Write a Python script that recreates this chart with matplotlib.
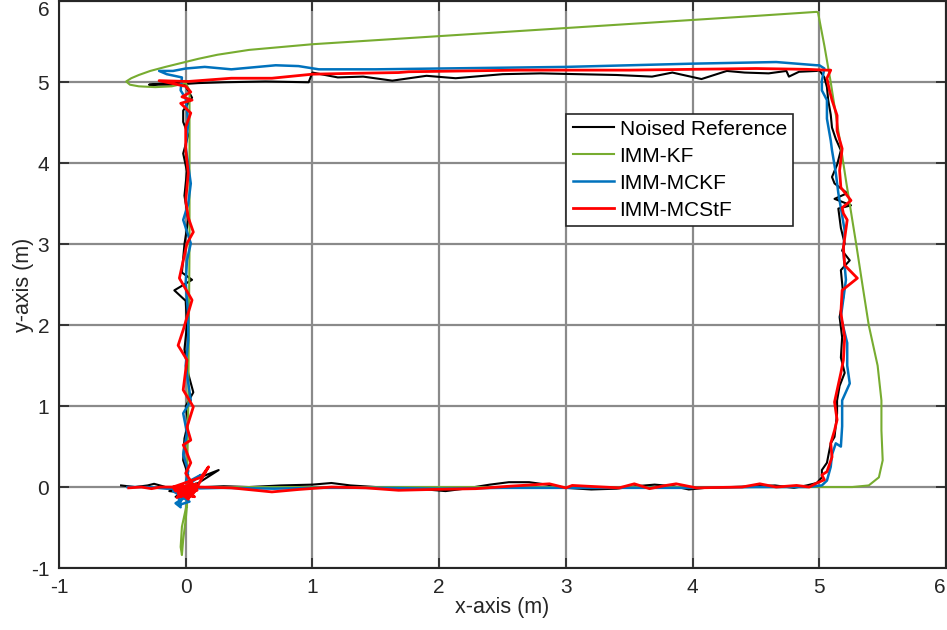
import matplotlib
matplotlib.use("Agg")
import matplotlib.pyplot as plt

plt.rcParams['font.family'] = ['Liberation Sans', 'DejaVu Sans']
plt.rcParams['axes.unicode_minus'] = False

# Noised reference
ref_x = [-0.51, -0.40, -0.30, -0.25, -0.18, -0.12, -0.05, 0.05, 0.15, 0.30, 0.50, 0.75, 1.00, 1.15, 1.30,
         1.50, 1.70, 1.90, 2.05, 2.20, 2.40, 2.55, 2.71, 2.85, 3.00, 3.20, 3.40, 3.55, 3.70, 3.85, 3.97,
         4.10, 4.30, 4.50, 4.65, 4.80, 4.90, 4.98,
         5.02, 5.02, 5.06, 5.09, 5.12, 5.14, 5.14, 5.16, 5.20, 5.17, 5.18, 5.16, 5.19, 5.17, 5.24, 5.18,
         5.20, 5.17, 5.15, 5.25, 5.12, 5.22, 5.12, 5.10, 5.14, 5.17, 5.13, 5.10, 5.09, 5.07, 5.06, 5.04, 5.00,
         4.98, 4.84, 4.76, 4.74, 4.60, 4.41, 4.27, 4.07, 3.84, 3.68, 3.40, 3.10, 2.80, 2.50, 2.13, 1.90,
         1.63, 1.40, 1.20, 1.00, 0.97, 0.63, 0.30, 0.10, -0.10, -0.29,
         -0.05, 0.00, 0.05, -0.02, -0.02, 0.02, -0.02, 0.01, -0.01, 0.02, -0.01, -0.03, 0.05, -0.09, 0.00,
         0.01, -0.01, 0.02, 0.06, 0.00, 0.02, -0.01, -0.02, 0.02, 0.00,
         0.26, 0.10, -0.13, 0.05, -0.08, 0.08, -0.02]
ref_y = [0.02, 0.00, 0.02, 0.04, 0.01, -0.02, -0.03, -0.02, 0.00, 0.01, 0.00, 0.02, 0.03, 0.05, 0.02,
         0.00, -0.01, -0.03, -0.05, -0.02, 0.03, 0.06, 0.06, 0.03, -0.01, -0.03, -0.02, 0.01, 0.03, 0.01, -0.03,
         -0.01, 0.00, 0.01, 0.02, -0.01, 0.02, 0.05,
         0.12, 0.21, 0.30, 0.54, 0.62, 0.91, 1.07, 1.25, 1.41, 1.60, 1.85, 2.10, 2.35, 2.68, 2.80, 2.92,
         3.01, 3.20, 3.44, 3.48, 3.56, 3.63, 3.75, 3.83, 3.98, 4.16, 4.30, 4.44, 4.60, 4.78, 4.94, 5.06, 5.15,
         5.14, 5.13, 5.07, 5.14, 5.11, 5.12, 5.14, 5.04, 5.12, 5.07, 5.09, 5.10, 5.11, 5.10, 5.05, 5.08,
         5.02, 5.07, 5.06, 5.12, 5.00, 5.01, 5.00, 4.99, 4.97, 4.97,
         5.00, 4.95, 4.81, 4.65, 4.51, 4.35, 4.12, 3.90, 3.60, 3.30, 3.00, 2.65, 2.56, 2.43, 2.30,
         2.00, 1.70, 1.40, 1.17, 1.00, 0.80, 0.60, 0.33, 0.15, 0.05,
         0.21, 0.05, -0.05, -0.08, -0.12, 0.02, -0.03]

# IMM-KF
kf_x = [0.00, 1.00, 2.00, 3.00, 4.00, 5.00, 5.26, 5.39, 5.47, 5.50, 5.49, 5.49, 5.46, 5.39, 5.34, 5.29,
        5.26, 5.21, 5.17, 5.13, 5.09, 5.04, 4.99, 4.98,
        4.50, 4.00, 3.00, 2.00, 1.00, 0.50, 0.25, 0.10, -0.03, -0.16, -0.28, -0.37, -0.43, -0.47, -0.44,
        -0.37, -0.24, -0.11, 0.00,
        0.03, 0.03, 0.02, 0.01, 0.01, -0.03, -0.04, -0.03, -0.02, 0.00, 0.01]
kf_y = [0.00, 0.00, 0.00, 0.00, 0.00, 0.00, 0.00, 0.02, 0.12, 0.33, 0.70, 1.07, 1.50, 2.00, 2.50, 3.01,
        3.30, 3.79, 4.20, 4.60, 5.00, 5.45, 5.86, 5.87,
        5.82, 5.77, 5.67, 5.57, 5.47, 5.40, 5.34, 5.29, 5.24, 5.19, 5.14, 5.09, 5.05, 5.01, 4.97,
        4.95, 4.94, 4.95, 4.99,
        4.90, 3.00, 1.00, 0.00, -0.20, -0.49, -0.74, -0.84, -0.65, -0.40, -0.23]

# IMM-MCKF
mckf_x = [-0.46, -0.30, -0.15, 0.00, 0.30, 0.70, 1.00, 1.50, 2.00, 2.50, 3.00, 3.50, 4.00, 4.50, 4.90,
          5.02, 5.06, 5.09, 5.10, 5.13, 5.17, 5.18, 5.18, 5.24, 5.22, 5.22, 5.17, 5.21, 5.19, 5.20, 5.15,
          5.13, 5.10, 5.09, 5.06, 5.06, 5.02, 5.02, 5.04, 5.00,
          4.98, 4.66, 4.00, 3.50, 3.00, 2.50, 2.00, 1.50, 1.05, 0.89, 0.71, 0.50, 0.36, 0.15, 0.00, -0.10,
          -0.21, -0.15, -0.03,
          -0.04, 0.00, 0.02, 0.00, 0.04, 0.02, -0.02, 0.04, 0.01, 0.00, 0.02, 0.02, 0.00, 0.04, -0.02,
          0.01, -0.02, 0.02, 0.00,
          0.12, 0.04, -0.06, -0.04, -0.08, 0.02, -0.10, 0.03, -0.05, 0.00]
mckf_y = [0.00, 0.00, -0.02, -0.02, -0.01, -0.02, -0.01, -0.01, -0.02, -0.01, -0.01, -0.01, -0.01, 0.00, 0.00,
          0.02, 0.08, 0.25, 0.40, 0.54, 0.50, 0.75, 1.07, 1.28, 1.50, 1.78, 2.10, 2.56, 2.90, 3.17, 3.63,
          3.88, 4.16, 4.28, 4.55, 4.78, 4.90, 5.02, 5.17, 5.21,
          5.21, 5.25, 5.23, 5.21, 5.19, 5.18, 5.17, 5.16, 5.16, 5.20, 5.21, 5.18, 5.16, 5.19, 5.17, 5.14,
          5.14, 5.10, 5.06,
          4.90, 4.80, 4.50, 4.20, 3.75, 3.50, 3.30, 3.01, 2.80, 2.52, 2.10, 1.81, 1.50, 1.07, 0.91,
          0.67, 0.40, 0.20, 0.05,
          0.15, 0.05, -0.10, -0.25, -0.20, -0.10, -0.05, -0.18, -0.22, -0.02]

# IMM-MCStF
mcstf_x = [-0.45, -0.35, -0.27, -0.20, 0.10, 0.36, 0.68, 0.89, 1.15, 1.42, 1.68, 1.94, 2.29, 2.55, 2.87,
           3.00, 3.05, 3.42, 3.54, 3.66, 3.79, 3.87, 4.03, 4.39, 4.53, 4.66, 4.82, 4.92, 4.98,
           5.04, 5.02, 5.06, 5.10, 5.09, 5.12, 5.14, 5.12, 5.17, 5.19, 5.20, 5.17, 5.18, 5.30, 5.20, 5.19,
           5.22, 5.19, 5.18, 5.25, 5.17, 5.16, 5.18, 5.14, 5.14, 5.10, 5.08, 5.06, 5.09, 5.05,
           4.90, 4.50, 4.00, 3.50, 3.00, 2.63, 2.20, 1.76, 1.68, 1.30, 1.00, 0.68, 0.36, 0.02, -0.21,
           0.00, 0.04, -0.03, 0.05, -0.04, 0.04, 0.00, 0.00, 0.02, 0.00, 0.02, 0.06, 0.01, -0.05, 0.05,
           -0.02, -0.06, 0.01, -0.02, 0.06, 0.01, 0.04, -0.02, 0.00, 0.04, 0.00, 0.05,
           -0.08, 0.08, -0.05, 0.06, 0.18, 0.12, -0.10, 0.02, 0.08, -0.06, 0.07, -0.09, 0.03, -0.04,
           0.09, -0.07, 0.05, 0.00]
mcstf_y = [-0.01, 0.00, -0.02, 0.00, 0.00, -0.01, -0.06, -0.03, 0.00, -0.01, -0.04, -0.03, -0.02, 0.01, 0.04,
           -0.01, 0.02, -0.01, 0.04, -0.02, 0.02, 0.04, -0.01, 0.00, 0.04, 0.00, 0.02, 0.00, 0.05,
           0.09, 0.15, 0.19, 0.37, 0.54, 0.70, 0.83, 1.05, 1.41, 1.57, 1.85, 2.15, 2.43, 2.58, 2.74, 2.96,
           3.30, 3.38, 3.45, 3.54, 3.70, 3.91, 4.18, 4.40, 4.59, 4.78, 4.90, 5.05, 5.15, 5.15,
           5.16, 5.17, 5.16, 5.15, 5.15, 5.15, 5.14, 5.13, 5.12, 5.11, 5.10, 5.05, 5.05, 5.01, 5.02,
           4.95, 4.88, 4.82, 4.78, 4.74, 4.62, 4.45, 4.16, 3.88, 3.54, 3.33, 3.15, 3.01, 2.58, 2.31,
           1.94, 1.75, 1.57, 1.20, 0.99, 0.74, 0.58, 0.52, 0.46, 0.30, 0.17, 0.05,
           -0.05, -0.02, -0.12, -0.08, 0.25, 0.12, 0.00, -0.15, 0.04, -0.08, -0.12, -0.03, -0.10, 0.02,
           -0.04, -0.13, 0.03, -0.06]

fig = plt.figure(figsize=(9.47, 6.30), dpi=100)
ax = fig.add_axes([0.0623, 0.0984, 0.9367, 0.8995])

ax.plot(ref_x, ref_y, color='black', lw=1.5, label='Noised Reference')
ax.plot(kf_x, kf_y, color='#77AC30', lw=1.5, label='IMM-KF')
ax.plot(mckf_x, mckf_y, color='#0072BD', lw=1.8, label='IMM-MCKF')
ax.plot(mcstf_x, mcstf_y, color='red', lw=2.0, label='IMM-MCStF')

ax.set_xlim(-1, 6)
ax.set_ylim(-1, 6)
ax.set_xticks(range(-1, 7))
ax.set_yticks(range(-1, 7))
ax.grid(True, color='#8a8a8a', lw=1.6)
ax.set_axisbelow(True)
ax.tick_params(direction='in', length=7, width=1.2, top=True, right=True,
               labelsize=15, colors='#262626', pad=7)
for s in ax.spines.values():
    s.set_color('#262626')
    s.set_linewidth(1.5)

# keep the outer tick labels inside the figure
ax.get_xticklabels()[-1].set_ha('right')
ax.get_yticklabels()[-1].set_va('top')

ax.set_xlabel('x-axis (m)', fontsize=15.5, color='#262626')
ax.set_ylabel('y-axis (m)', fontsize=15.5, color='#262626')
ax.xaxis.set_label_coords(0.5, -0.052)
ax.yaxis.set_label_coords(-0.028, 0.5)

leg = ax.legend(loc='upper left', bbox_to_anchor=(0.572, 0.802), fontsize=15,
                frameon=True, fancybox=False, edgecolor='#262626', framealpha=1,
                handlelength=2.0, handletextpad=0.25, labelspacing=0.38, borderpad=0.3,
                borderaxespad=0)
leg.get_frame().set_linewidth(1.2)

fig.savefig('out.png', dpi=100)
